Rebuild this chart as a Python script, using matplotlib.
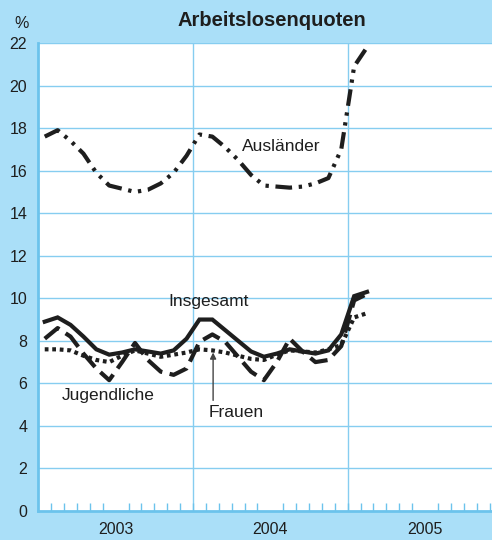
import matplotlib
matplotlib.use("Agg")
import matplotlib.pyplot as plt
import numpy as np

plt.rcParams['font.family'] = ['Liberation Sans', 'DejaVu Sans']

# Monthly unemployment rates, Jan 2003 - Feb 2005 (in %)
months = [f"{y}-{m:02d}" for y in (2003, 2004) for m in range(1, 13)] + ["2005-01", "2005-02"]

auslaender = [17.6, 17.9, 17.4, 16.8, 15.9, 15.3, 15.15, 15.0, 15.1, 15.4, 15.9, 16.7,
              17.7, 17.6, 17.1, 16.5, 15.8, 15.3, 15.25, 15.2, 15.25, 15.4, 15.65, 17.0,
              20.9, 21.8]
insgesamt = [8.9, 9.1, 8.75, 8.2, 7.6, 7.35, 7.45, 7.6, 7.5, 7.4, 7.55, 8.1,
             9.0, 9.0, 8.5, 8.0, 7.5, 7.25, 7.4, 7.6, 7.5, 7.4, 7.55, 8.3,
             10.1, 10.3]
jugendliche = [8.1, 8.6, 8.2, 7.4, 6.7, 6.15, 7.0, 7.9, 7.1, 6.55, 6.4, 6.7,
               7.95, 8.3, 7.95, 7.25, 6.55, 6.15, 7.0, 8.1, 7.5, 7.0, 7.1, 7.75,
               9.9, 10.2]
frauen = [7.6, 7.6, 7.55, 7.3, 7.1, 7.0, 7.3, 7.55, 7.4, 7.25, 7.35, 7.45,
          7.6, 7.55, 7.45, 7.3, 7.15, 7.1, 7.35, 7.55, 7.5, 7.45, 7.6, 7.8,
          9.1, 9.3]

year_labels = ["2003", "2004", "2005"]
y_ticks = list(range(0, 23, 2))

# Position each monthly value at the middle of its month
x = np.array([int(s[:4]) + (int(s[5:]) - 0.5) / 12 for s in months])

bg = "#aadff8"
grid_c = "#86cdf0"
axis_c = "#6cc3ec"
ink = "#1e1e1e"

fig = plt.figure(figsize=(4.92, 5.40), dpi=100, facecolor=bg)
ax = fig.add_axes([38.3 / 492, 29 / 540, (492 - 38.3) / 492, (511 - 43) / 540])
ax.set_facecolor("white")

x0 = 2003
x1 = 2003 + (492 - 38.3) / 154.7
ax.set_xlim(x0, x1)
ax.set_ylim(0, 22)

# grid
for v in y_ticks[1:]:
    ax.axhline(v, color=grid_c, lw=1.0, zorder=1)
for yr in (2004, 2005):
    ax.axvline(yr, color=grid_c, lw=1.0, zorder=1)

for s in ("top", "right"):
    ax.spines[s].set_visible(False)
for s in ("left", "bottom"):
    ax.spines[s].set_color(axis_c)
    ax.spines[s].set_linewidth(2.0)

ax.set_yticks(y_ticks)
ax.set_yticklabels([str(v) for v in y_ticks], fontsize=11.5, color=ink)
ax.tick_params(axis="y", length=0, pad=8)

# monthly ticks along the bottom
mt = np.arange(2003 + 1 / 12, x1, 1 / 12)
ax.set_xticks(mt, minor=True)
ax.set_xticks([2003.5, 2004.5, 2005.5])
ax.set_xticklabels(year_labels, fontsize=11.5, color=ink)
ax.tick_params(axis="x", which="major", length=0, pad=8)
ax.tick_params(axis="x", which="minor", direction="in", length=6, width=1.0, color=axis_c)

lw = 3.0
ax.plot(x, auslaender, color=ink, lw=lw, dashes=(4.0, 1.6, 0.8, 1.6, 0.8, 1.6),
        solid_capstyle="butt", dash_capstyle="butt", zorder=3)
ax.plot(x, insgesamt, color=ink, lw=lw, solid_joinstyle="miter", zorder=4)
ax.plot(x, jugendliche, color=ink, lw=lw, dashes=(4.5, 1.8), dash_capstyle="butt", zorder=3)
ax.plot(x, frauen, color=ink, lw=lw, dashes=(0.9, 0.9), dash_capstyle="butt", zorder=3)

# series labels
lab = dict(fontsize=12.5, color=ink, ha="center", va="center", zorder=5)
ax.text(2003 + (281 - 38.3) / 154.7, (511 - 147) / 21.27, "Ausländer", **lab)
ax.text(2003 + (209 - 38.3) / 154.7, (511 - 302) / 21.27, "Insgesamt", **lab)
ax.text(2003 + (108 - 38.3) / 154.7, (511 - 396) / 21.27, "Jugendliche", **lab)
ax.text(2003 + (236 - 38.3) / 154.7, (511 - 413) / 21.27, "Frauen", **lab)
ax.annotate("", xy=(x[13] + 0.005, 7.45), xytext=(x[13] + 0.005, 5.2),
            arrowprops=dict(arrowstyle="-|>", color="#444444", lw=1.0,
                            mutation_scale=9, shrinkA=0, shrinkB=0), zorder=5)

fig.text(272 / 492, 1 - 20 / 540, "Arbeitslosenquoten", fontsize=14.5, fontweight="bold",
         color=ink, ha="center", va="center")
fig.text(22 / 492, 1 - 23 / 540, "%", fontsize=11.5, color=ink, ha="center", va="center")

fig.savefig("out.png", dpi=100, facecolor=bg)
